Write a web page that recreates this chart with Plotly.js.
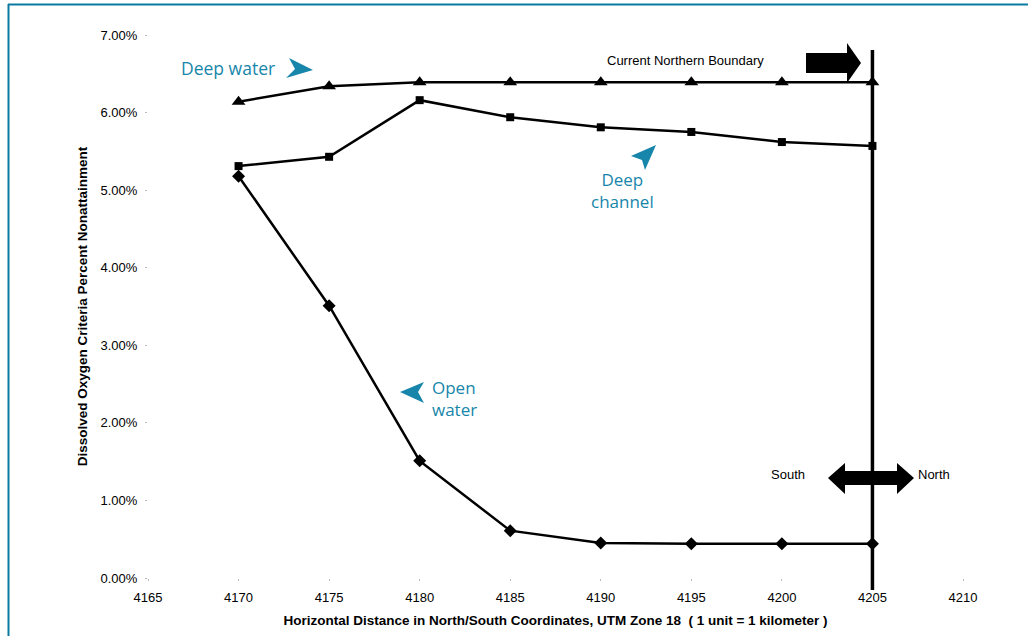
<!DOCTYPE html>
<html>
<head>
<meta charset="utf-8">
<script src="https://cdn.plot.ly/plotly-3.0.1.min.js"></script>
<style>html,body{margin:0;padding:0;background:#fff;}#chart{width:1028px;height:636px;}</style>
</head>
<body>
<div id="chart"></div>
<script>
// ---- data ----
const xCoords = [4170, 4175, 4180, 4185, 4190, 4195, 4200, 4205];
const deepWater = [0.0614, 0.0634, 0.0639, 0.0639, 0.0639, 0.0639, 0.0639, 0.0639];
const deepChannel = [0.0531, 0.0543, 0.0616, 0.0594, 0.0581, 0.0575, 0.0562, 0.0557];
const openWater = [0.0518, 0.0351, 0.0151, 0.0061, 0.0045, 0.0044, 0.0044, 0.0044];
const boundaryX = 4205;
const xTitle = 'Horizontal Distance in North/South Coordinates, UTM Zone 18  ( 1 unit = 1 kilometer )';
const yTitle = 'Dissolved Oxygen Criteria Percent Nonattainment';

// ---- layout helpers (pixel -> paper) ----
const W = 1028, H = 636;
const M = {l: 148, r: 65, t: 35, b: 58};
const PW = W - M.l - M.r, PH = H - M.t - M.b;
const px = x => (x - M.l) / PW;
const py = y => (H - M.b - y) / PH;
function path(pts) {
  return 'M' + pts.map(p => px(p[0]).toFixed(5) + ',' + py(p[1]).toFixed(5)).join(' L') + ' Z';
}
const blue = '#1786aa';
const frame = '#0b7aa1';

const lineStyle = {color: '#000', width: 2.5};
const traces = [
  {x: xCoords, y: deepWater, name: 'Deep water', mode: 'lines+markers', line: lineStyle,
   marker: {symbol: 'triangle-up', size: 12, color: '#000'}, cliponaxis: false},
  {x: xCoords, y: deepChannel, name: 'Deep channel', mode: 'lines+markers', line: lineStyle,
   marker: {symbol: 'square', size: 8, color: '#000'}, cliponaxis: false},
  {x: xCoords, y: openWater, name: 'Open water', mode: 'lines+markers', line: lineStyle,
   marker: {symbol: 'diamond', size: 10, color: '#000'}, cliponaxis: false}
];

const shapes = [
  // figure frame
  {type: 'line', xref: 'paper', yref: 'paper', x0: px(8), x1: px(1030), y0: py(4.5), y1: py(4.5), line: {color: frame, width: 2}},
  {type: 'line', xref: 'paper', yref: 'paper', x0: px(8.5), x1: px(8.5), y0: py(4), y1: py(640), line: {color: frame, width: 2}},
  // boundary vertical line
  {type: 'line', xref: 'x', yref: 'paper', x0: boundaryX, x1: boundaryX, y0: py(590), y1: py(50), line: {color: '#000', width: 3.5}},
  // top right arrow
  {type: 'path', xref: 'paper', yref: 'paper', path: path([[806,53],[847,53],[847,43],[861,63],[847,83],[847,73],[806,73]]), fillcolor: '#000', line: {width: 0}},
  // double arrow South/North
  {type: 'path', xref: 'paper', yref: 'paper', path: path([[828,478],[845,463],[845,471],[897,471],[897,463],[914,478],[897,494],[897,485],[845,485],[845,494]]), fillcolor: '#000', line: {width: 0}},
  // blue arrowheads
  {type: 'path', xref: 'paper', yref: 'paper', path: path([[313,70],[289,58],[295,69],[286,78]]), fillcolor: blue, line: {width: 0}},
  {type: 'path', xref: 'paper', yref: 'paper', path: path([[656,145],[631,156],[642,160],[645,170]]), fillcolor: blue, line: {width: 0}},
  {type: 'path', xref: 'paper', yref: 'paper', path: path([[400,392],[424,382],[418,392],[424,403]]), fillcolor: blue, line: {width: 0}}
];

const blueFont = {family: 'Open Sans, sans-serif', size: 17, color: blue};
const blackFont = {family: 'Liberation Sans, Arial, sans-serif', size: 13, color: '#000'};
function ann(text, x, y, font, xanchor) {
  return {text: text, xref: 'paper', yref: 'paper', x: px(x), y: py(y), xanchor: xanchor || 'center', yanchor: 'middle',
          align: xanchor || 'center', showarrow: false, font: font};
}
const annotations = [
  ann('Deep water', 179, 68, Object.assign({}, blueFont, {size: 17.5}), 'left'),
  ann('Deep<br>channel', 622, 190, blueFont),
  ann('Open<br>water', 430, 398, blueFont, 'left'),
  ann('Current Northern Boundary', 685, 60, blackFont),
  ann('South', 788, 474, blackFont),
  ann('North', 934, 474, blackFont)
];

const titleFont = {size: 13.5, family: 'Liberation Sans, Arial, sans-serif', weight: 'bold', color: '#000'};
const layout = {
  width: W, height: H,
  margin: M,
  paper_bgcolor: '#fff', plot_bgcolor: '#fff',
  showlegend: false,
  hovermode: false,
  font: {family: 'Liberation Sans, Arial, sans-serif', size: 13, color: '#000'},
  xaxis: {
    range: [4165, 4210], tick0: 4165, dtick: 5, showgrid: false, zeroline: false, showline: false,
    ticks: 'outside', ticklen: 2, tickcolor: '#bbb', ticklabelstandoff: 5,
    title: {text: xTitle, font: titleFont, standoff: 11}
  },
  yaxis: {
    range: [0, 0.07], dtick: 0.01, tickformat: '.2%', showgrid: false, zeroline: false, showline: false,
    ticks: 'outside', ticklen: 2, tickcolor: '#bbb', ticklabelstandoff: 5,
    title: {text: yTitle, font: titleFont, standoff: 9}
  },
  shapes: shapes,
  annotations: annotations
};

Plotly.newPlot('chart', traces, layout, {displayModeBar: false, staticPlot: true});
</script>
</body>
</html>
